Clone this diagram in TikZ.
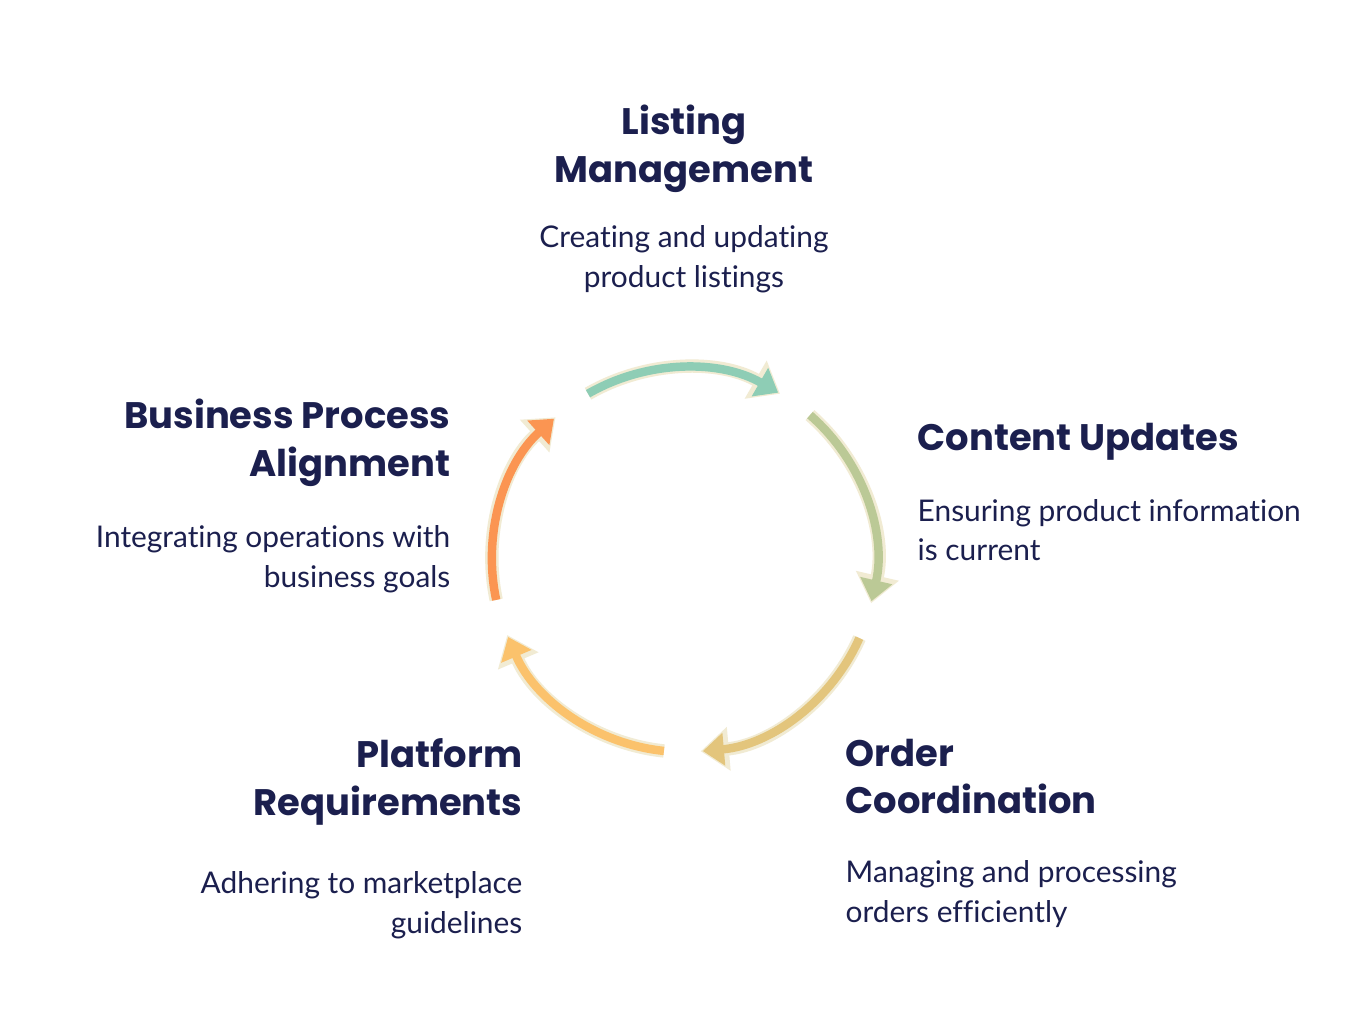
\documentclass[tikz,border=0pt]{standalone}
\usepackage{fontspec}
\setmainfont[Ligatures={NoCommon}]{Lato}
\usetikzlibrary{positioning, arrows.meta}
\definecolor{cyNavy}{HTML}{1B1F4E}
\definecolor{cyEdge}{HTML}{F1EBD3}
\definecolor{cyTeal}{HTML}{8ECDB5}
\definecolor{cyOlive}{HTML}{BBC996}
\definecolor{cySand}{HTML}{E3C57C}
\definecolor{cyPeach}{HTML}{FBC26C}
\definecolor{cyOrange}{HTML}{FB9552}
\newfontfamily\headfont{Poppins}
\tikzset{
    title/.style={
        font=\headfont\bfseries\fontsize{10.5}{13.6}\selectfont,
        text=cyNavy,
        inner sep=0pt
    },
    descr/.style={
        font=\fontsize{8.5}{11.3}\selectfont,
        text=cyNavy,
        inner sep=0pt
    },
    rimline/.style={
        line width=3.8pt,
        color=cyEdge,
        -{Triangle[length=8pt, width=12pt]}
    },
    stepline/.style={
        line width=2.4pt,
        color=#1,
        -{Triangle[length=6pt, width=9pt]}
    }
}
\newcommand{\cyclearc}[3]{%
  \draw[rimline] ([shift={(#1:1.92)}]mid) arc (#1:#2:1.92);
  \draw[stepline=#3, shorten >=0.6pt] ([shift={(#1:1.92)}]mid) arc (#1:#2:1.92);
}
\begin{document}
\begin{tikzpicture}
  \useasboundingbox[fill=white] (0,0) rectangle (13.68,10.24);
  \coordinate (mid) at (6.84,4.64);

  % cycle arrows
  \cyclearc{120}{60}{cyTeal}
  \cyclearc{49}{-13}{cyOlive}
  \cyclearc{-24}{-85}{cySand}
  \cyclearc{-96}{-157}{cyPeach}
  \cyclearc{192}{132}{cyOrange}

  % Listing
  \node[title, align=center, anchor=north] (list) at (6.84,9.20) {Listing\\Management};
  \node[descr, align=center, below=0.32 of list] (listd) {Creating and updating\\product listings};

  % Content
  \node[title, align=left, anchor=north west] (cont) at (9.17,6.02) {Content Updates};
  \node[descr, align=left, below=0.38 of cont.south west, anchor=north west] (contd) {Ensuring product information\\is current};

  % Order
  \node[title, align=left, anchor=north west] (ord) at (8.45,2.86) {Order\\Coordination};
  \node[descr, align=left, below=0.45 of ord.south west, anchor=north west] (ordd) {Managing and processing\\orders efficiently};

  % Platform
  \node[title, align=right, anchor=north east] (plat) at (5.23,2.86) {Platform\\Requirements};
  \node[descr, align=right, below=0.45 of plat.south east, anchor=north east] (platd) {Adhering to marketplace\\guidelines};

  % Business
  \node[title, align=right, anchor=north east] (bus) at (4.51,6.26) {Business Process\\Alignment};
  \node[descr, align=right, below=0.38 of bus.south east, anchor=north east] (busd) {Integrating operations with\\business goals};
\end{tikzpicture}
\end{document}
